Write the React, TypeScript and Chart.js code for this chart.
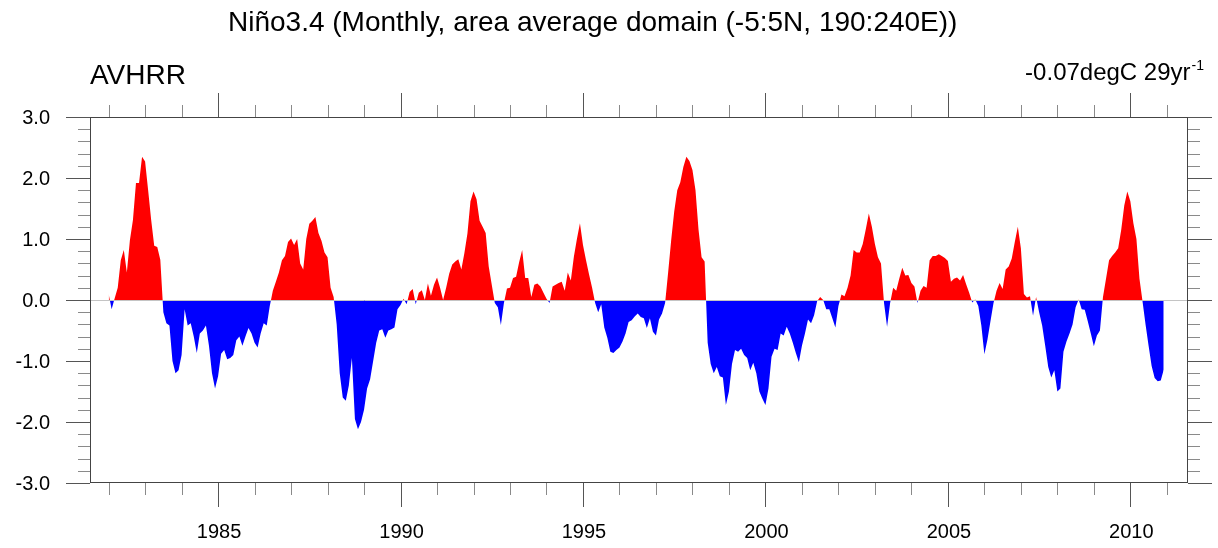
import React, { useEffect, useRef } from "react";
import { Chart, registerables } from "chart.js";

Chart.register(...registerables);

// ---- data -----------------------------------------------------------------
const START_YEAR = 1982; // first month: Jan 1982, monthly steps
// Niño3.4 SST anomaly (degC), one row per year, Jan..Dec
const anomalies: number[] = [
  0.1, -0.15, 0.03, 0.2, 0.65, 0.82, 0.45, 0.98, 1.31, 1.92, 1.92, 2.35, // 1982
  2.27, 1.8, 1.31, 0.89, 0.87, 0.66, -0.2, -0.38, -0.42, -1.0, -1.2, -1.15, // 1983
  -0.9, -0.15, -0.42, -0.38, -0.6, -0.87, -0.55, -0.5, -0.42, -0.75, -1.2, -1.45, // 1984
  -1.25, -0.88, -0.82, -0.97, -0.95, -0.9, -0.66, -0.6, -0.75, -0.6, -0.46, -0.55, // 1985
  -0.7, -0.78, -0.55, -0.38, -0.42, -0.1, 0.15, 0.3, 0.45, 0.65, 0.72, 0.95, // 1986
  1.01, 0.9, 1.0, 0.6, 0.5, 1.0, 1.25, 1.3, 1.36, 1.1, 0.97, 0.78, // 1987
  0.7, 0.2, 0.05, -0.4, -1.2, -1.6, -1.65, -1.4, -0.95, -1.95, -2.12, -2.0, // 1988
  -1.8, -1.45, -1.3, -1.0, -0.7, -0.5, -0.48, -0.62, -0.5, -0.48, -0.45, -0.15, // 1989
  -0.08, 0.02, -0.07, 0.13, 0.18, -0.07, 0.12, 0.16, 0.0, 0.27, 0.07, 0.25, // 1990
  0.37, 0.2, 0.0, 0.2, 0.43, 0.58, 0.63, 0.67, 0.5, 0.77, 1.09, 1.62, // 1991
  1.78, 1.65, 1.3, 1.2, 1.1, 0.55, 0.25, -0.05, -0.12, -0.41, -0.05, 0.19, // 1992
  0.2, 0.36, 0.38, 0.62, 0.82, 0.36, 0.36, 0.05, 0.25, 0.27, 0.22, 0.12, // 1993
  0.02, -0.05, 0.22, 0.25, 0.28, 0.3, 0.15, 0.45, 0.32, 0.71, 1.0, 1.26, // 1994
  0.9, 0.65, 0.42, 0.2, -0.05, -0.2, -0.07, -0.45, -0.62, -0.85, -0.87, -0.82, // 1995
  -0.78, -0.68, -0.55, -0.36, -0.33, -0.27, -0.22, -0.28, -0.3, -0.46, -0.3, -0.52, // 1996
  -0.58, -0.32, -0.22, -0.05, 0.45, 0.98, 1.45, 1.8, 1.93, 2.18, 2.35, 2.28, // 1997
  2.13, 1.8, 1.15, 0.7, 0.63, -0.7, -1.05, -1.2, -1.1, -1.25, -1.27, -1.72, // 1998
  -1.5, -1.05, -0.82, -0.85, -0.8, -0.9, -0.95, -1.15, -1.03, -1.2, -1.5, -1.62, // 1999
  -1.72, -1.45, -0.93, -0.8, -0.82, -0.55, -0.58, -0.44, -0.55, -0.7, -0.87, -1.02, // 2000
  -0.75, -0.55, -0.32, -0.38, -0.25, -0.02, 0.05, 0.0, -0.15, -0.15, -0.3, -0.45, // 2001
  -0.1, 0.09, 0.06, 0.2, 0.4, 0.82, 0.78, 0.78, 0.92, 1.16, 1.42, 1.2, // 2002
  0.92, 0.7, 0.6, -0.05, -0.44, -0.05, 0.2, 0.15, 0.35, 0.53, 0.4, 0.41, // 2003
  0.28, 0.22, -0.05, 0.15, 0.23, 0.2, 0.65, 0.72, 0.72, 0.75, 0.72, 0.69, // 2004
  0.64, 0.3, 0.35, 0.37, 0.32, 0.41, 0.26, 0.12, -0.04, 0.01, -0.1, -0.42, // 2005
  -0.89, -0.65, -0.35, -0.05, 0.15, 0.28, 0.18, 0.5, 0.55, 0.68, 0.95, 1.2, // 2006
  0.85, 0.1, 0.04, 0.06, -0.26, 0.05, -0.2, -0.42, -0.75, -1.1, -1.27, -1.15, // 2007
  -1.5, -1.45, -0.85, -0.68, -0.55, -0.4, -0.12, 0.01, -0.15, -0.16, -0.35, -0.55, // 2008
  -0.76, -0.58, -0.5, 0.05, 0.35, 0.65, 0.72, 0.78, 0.85, 1.15, 1.55, 1.78, // 2009
  1.62, 1.26, 1.0, 0.35, -0.02, -0.4, -0.75, -1.08, -1.28, -1.33, -1.32, -1.14, // 2010
];

const xMajorYears = [1985, 1990, 1995, 2000, 2005, 2010];
const xMinorYears = [
  1982, 1983, 1984, 1986, 1987, 1988, 1989, 1991, 1992, 1993, 1994, 1996, 1997,
  1998, 1999, 2001, 2002, 2003, 2004, 2006, 2007, 2008, 2009, 2011,
];
const yMajorTicks = [3, 2, 1, 0, -1, -2, -3];
const yTickLabels = ["3.0", "2.0", "1.0", "0.0", "-1.0", "-2.0", "-3.0"];
const yMinorTicks = [
  2.8, 2.6, 2.4, 2.2, 1.8, 1.6, 1.4, 1.2, 0.8, 0.6, 0.4, 0.2,
  -0.2, -0.4, -0.6, -0.8, -1.2, -1.4, -1.6, -1.8, -2.2, -2.4, -2.6, -2.8,
];

const TITLE = "Niño3.4 (Monthly, area average domain (-5:5N, 190:240E))";
const LEFT_LABEL = "AVHRR";
const RIGHT_LABEL = "-0.07degC 29yr";
const RIGHT_SUP = "-1";

const X_MIN = 1981.49;
const X_MAX = 2011.58;
const Y_MIN = -3;
const Y_MAX = 3;

const FONT = '"Liberation Sans", Arial, Helvetica, sans-serif';

const nclAxesPlugin = {
  id: "nclAxes",
  afterDatasetsDraw(chart: any) {
    const { ctx, chartArea } = chart;
    const xs = chart.scales.x;
    const ys = chart.scales.y;
    const L = chartArea.left;
    const R = chartArea.right;
    const T = chartArea.top;
    const B = chartArea.bottom;
    ctx.save();

    // zero reference line
    const y0 = Math.round(ys.getPixelForValue(0)) + 0.5;
    ctx.strokeStyle = "#c4c4c4";
    ctx.lineWidth = 1;
    ctx.beginPath();
    ctx.moveTo(L, y0);
    ctx.lineTo(R, y0);
    ctx.stroke();

    const line = (x1: number, y1: number, x2: number, y2: number, color: string) => {
      ctx.strokeStyle = color;
      ctx.beginPath();
      ctx.moveTo(x1, y1);
      ctx.lineTo(x2, y2);
      ctx.stroke();
    };
    const MAJ = 24;
    const MIN = 12;
    const majC = "#555555";
    const minC = "#8a8a8a";

    // frame
    ctx.strokeStyle = "#444444";
    ctx.strokeRect(L + 0.5, T + 0.5, R - L - 1, B - T - 1);

    // y ticks
    yMajorTicks.forEach((v) => {
      const y = Math.round(ys.getPixelForValue(v)) + 0.5;
      line(L - MAJ, y, L, y, majC);
      line(R, y, R + MAJ, y, majC);
    });
    yMinorTicks.forEach((v) => {
      const y = Math.round(ys.getPixelForValue(v)) + 0.5;
      line(L - MIN, y, L, y, minC);
      line(R, y, R + MIN, y, minC);
    });
    // x ticks
    xMajorYears.forEach((yr) => {
      const x = Math.round(xs.getPixelForValue(yr)) + 0.5;
      line(x, T - MAJ, x, T, majC);
      line(x, B, x, B + MAJ, majC);
    });
    xMinorYears.forEach((yr) => {
      const x = Math.round(xs.getPixelForValue(yr)) + 0.5;
      line(x, T - MIN, x, T, minC);
      line(x, B, x, B + MIN, minC);
    });

    // labels
    ctx.fillStyle = "#000000";
    ctx.font = `20px ${FONT}`;
    ctx.textAlign = "right";
    ctx.textBaseline = "alphabetic";
    yMajorTicks.forEach((v, i) => {
      const y = ys.getPixelForValue(v);
      ctx.fillText(yTickLabels[i], 50, y + 7);
    });
    ctx.textAlign = "center";
    xMajorYears.forEach((yr) => {
      const x = xs.getPixelForValue(yr);
      ctx.fillText(String(yr), x + 1, 538);
    });

    // title and strings
    ctx.textAlign = "left";
    ctx.font = `28px ${FONT}`;
    ctx.fillText(TITLE, 228, 31);
    ctx.fillText(LEFT_LABEL, 90, 84);

    ctx.font = `24px ${FONT}`;
    const mainW = ctx.measureText(RIGHT_LABEL).width;
    ctx.font = `14px ${FONT}`;
    const supW = ctx.measureText(RIGHT_SUP).width;
    const rightEnd = 1204;
    const startX = rightEnd - supW - mainW - 1;
    ctx.font = `24px ${FONT}`;
    ctx.fillText(RIGHT_LABEL, startX, 80);
    ctx.font = `14px ${FONT}`;
    ctx.fillText(RIGHT_SUP, startX + mainW + 1, 70);

    ctx.restore();
  },
};

export default function App() {
  const canvasRef = useRef<HTMLCanvasElement | null>(null);

  useEffect(() => {
    const canvas = canvasRef.current;
    if (!canvas) return;
    const points = anomalies.map((v, i) => ({ x: START_YEAR + i / 12, y: v }));
    const chart = new Chart(canvas, {
      type: "line",
      data: {
        datasets: [
          {
            data: points,
            borderWidth: 0,
            borderColor: "rgba(0,0,0,0)",
            pointRadius: 0,
            tension: 0,
            fill: { target: { value: 0 }, above: "#ff0000", below: "#0000ff" },
          } as any,
        ],
      },
      options: {
        responsive: false,
        maintainAspectRatio: false,
        animation: false,
        devicePixelRatio: 1,
        layout: { padding: { left: 90, right: 30, top: 117, bottom: 65 } },
        plugins: {
          legend: { display: false },
          title: { display: false },
          tooltip: { enabled: false },
        },
        scales: {
          x: { type: "linear", min: X_MIN, max: X_MAX, display: false },
          y: { type: "linear", min: Y_MIN, max: Y_MAX, display: false },
        },
      },
      plugins: [nclAxesPlugin],
    });
    return () => chart.destroy();
  }, []);

  return (
    <div style={{ position: "absolute", left: 0, top: 0, width: 1218, height: 548, background: "#fff" }}>
      <canvas ref={canvasRef} width={1218} height={548} style={{ width: 1218, height: 548, display: "block" }} />
    </div>
  );
}
